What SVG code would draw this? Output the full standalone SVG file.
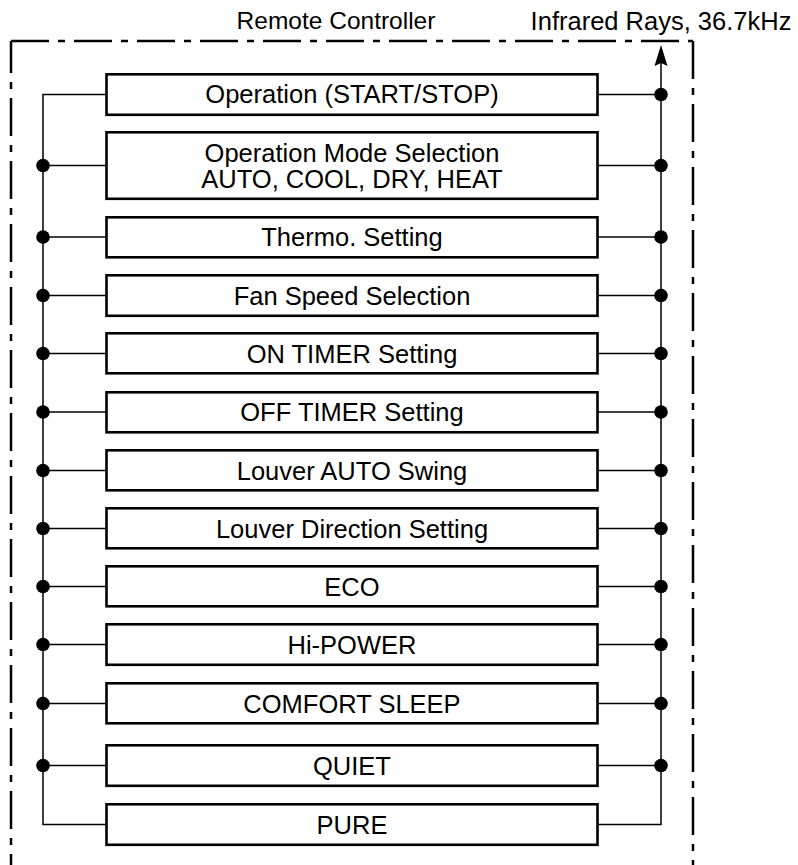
<svg xmlns="http://www.w3.org/2000/svg" width="798" height="865" viewBox="0 0 798 865">
<style>
  text { font-family: "Liberation Sans", Arial, sans-serif; font-size: 25.5px; fill: #000; text-anchor: middle; }
  .box { fill: #fff; stroke: #000; stroke-width: 2.6; }
  .wire { fill: none; stroke: #000; stroke-width: 1.5; }
  .frame { fill: none; stroke: #000; stroke-width: 2.5; stroke-dasharray: 38 9 7 9; }
  .dot { fill: #000; }
</style>
<rect width="798" height="865" fill="#fff"/>
<g id="frame">
  <line class="frame" x1="11" y1="41" x2="11" y2="870" stroke-dashoffset="6"/>
  <line class="frame" x1="11" y1="41" x2="693" y2="41" stroke-dashoffset="0"/>
  <line class="frame" x1="693" y1="41" x2="693" y2="870" stroke-dashoffset="0"/>
  <text x="336" y="29" style="font-size:24.5px">Remote Controller</text>
  <text x="661" y="30">Infrared Rays, 36.7kHz</text>
</g>
<g id="connectors">
  <polyline class="wire" points="106,94.5 43,94.5 43,824.5 106,824.5"/>
  <polyline class="wire" points="598,824.5 661,824.5 661,60"/>
  <polygon points="661,45 654.5,66 661,63 667.5,66" fill="#000"/>
  <g class="wire">
    <line x1="43" y1="165.5" x2="106" y2="165.5"/><line x1="598" y1="165.5" x2="661" y2="165.5"/>
    <line x1="598" y1="94.5" x2="661" y2="94.5"/>
    <line x1="43" y1="237" x2="106" y2="237"/><line x1="598" y1="237" x2="661" y2="237"/>
    <line x1="43" y1="295.5" x2="106" y2="295.5"/><line x1="598" y1="295.5" x2="661" y2="295.5"/>
    <line x1="43" y1="353.5" x2="106" y2="353.5"/><line x1="598" y1="353.5" x2="661" y2="353.5"/>
    <line x1="43" y1="412" x2="106" y2="412"/><line x1="598" y1="412" x2="661" y2="412"/>
    <line x1="43" y1="470.5" x2="106" y2="470.5"/><line x1="598" y1="470.5" x2="661" y2="470.5"/>
    <line x1="43" y1="528.5" x2="106" y2="528.5"/><line x1="598" y1="528.5" x2="661" y2="528.5"/>
    <line x1="43" y1="586.5" x2="106" y2="586.5"/><line x1="598" y1="586.5" x2="661" y2="586.5"/>
    <line x1="43" y1="644.5" x2="106" y2="644.5"/><line x1="598" y1="644.5" x2="661" y2="644.5"/>
    <line x1="43" y1="703.5" x2="106" y2="703.5"/><line x1="598" y1="703.5" x2="661" y2="703.5"/>
    <line x1="43" y1="765.5" x2="106" y2="765.5"/><line x1="598" y1="765.5" x2="661" y2="765.5"/>
  </g>
  <g class="dot">
    <circle cx="661" cy="94.5" r="6.8"/>
    <circle cx="43" cy="165.5" r="6.8"/><circle cx="661" cy="165.5" r="6.8"/>
    <circle cx="43" cy="237" r="6.8"/><circle cx="661" cy="237" r="6.8"/>
    <circle cx="43" cy="295.5" r="6.8"/><circle cx="661" cy="295.5" r="6.8"/>
    <circle cx="43" cy="353.5" r="6.8"/><circle cx="661" cy="353.5" r="6.8"/>
    <circle cx="43" cy="412" r="6.8"/><circle cx="661" cy="412" r="6.8"/>
    <circle cx="43" cy="470.5" r="6.8"/><circle cx="661" cy="470.5" r="6.8"/>
    <circle cx="43" cy="528.5" r="6.8"/><circle cx="661" cy="528.5" r="6.8"/>
    <circle cx="43" cy="586.5" r="6.8"/><circle cx="661" cy="586.5" r="6.8"/>
    <circle cx="43" cy="644.5" r="6.8"/><circle cx="661" cy="644.5" r="6.8"/>
    <circle cx="43" cy="703.5" r="6.8"/><circle cx="661" cy="703.5" r="6.8"/>
    <circle cx="43" cy="765.5" r="6.8"/><circle cx="661" cy="765.5" r="6.8"/>
  </g>
</g>
<g id="n-operation"><rect class="box" x="106.5" y="74.3" width="491" height="40.5"/><text x="352" y="103">Operation (START/STOP)</text></g>
<g id="n-mode"><rect class="box" x="106.5" y="132.3" width="491" height="66.5"/><text x="352" y="162">Operation Mode Selection</text><text x="352" y="188">AUTO, COOL, DRY, HEAT</text></g>
<g id="n-thermo"><rect class="box" x="106.5" y="217.3" width="491" height="40"/><text x="352" y="246">Thermo. Setting</text></g>
<g id="n-fan"><rect class="box" x="106.5" y="275.3" width="491" height="40.5"/><text x="352" y="304.5">Fan Speed Selection</text></g>
<g id="n-ontimer"><rect class="box" x="106.5" y="333.3" width="491" height="40"/><text x="352" y="362.5">ON TIMER Setting</text></g>
<g id="n-offtimer"><rect class="box" x="106.5" y="392.3" width="491" height="40"/><text x="352" y="421">OFF TIMER Setting</text></g>
<g id="n-louverauto"><rect class="box" x="106.5" y="450.3" width="491" height="40"/><text x="352" y="479.5">Louver AUTO Swing</text></g>
<g id="n-louverdir"><rect class="box" x="106.5" y="508.3" width="491" height="40"/><text x="352" y="537.5">Louver Direction Setting</text></g>
<g id="n-eco"><rect class="box" x="106.5" y="566.3" width="491" height="40"/><text x="352" y="595.5">ECO</text></g>
<g id="n-hipower"><rect class="box" x="106.5" y="624.3" width="491" height="40.5"/><text x="352" y="653.5">Hi-POWER</text></g>
<g id="n-comfort"><rect class="box" x="106.5" y="683.3" width="491" height="40"/><text x="352" y="712.5">COMFORT SLEEP</text></g>
<g id="n-quiet"><rect class="box" x="106.5" y="745.3" width="491" height="40.5"/><text x="352" y="774.5">QUIET</text></g>
<g id="n-pure"><rect class="box" x="106.5" y="804.3" width="491" height="40.5"/><text x="352" y="833.5">PURE</text></g>
</svg>
